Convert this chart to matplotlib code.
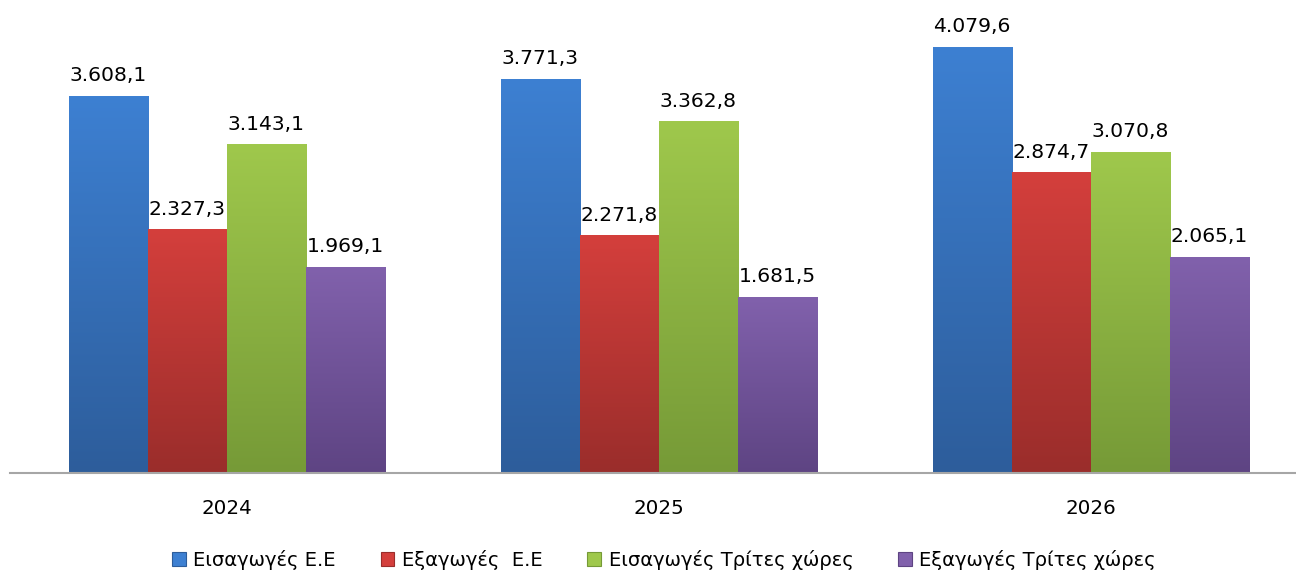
import numpy as np
import matplotlib.pyplot as plt
from matplotlib.colors import LinearSegmentedColormap
from matplotlib.patches import Patch

plt.rcParams['font.family'] = ['DejaVu Sans']

years = ['2024', '2025', '2026']
series = ['Εισαγωγές Ε.Ε', 'Εξαγωγές  Ε.Ε', 'Εισαγωγές Τρίτες χώρες', 'Εξαγωγές Τρίτες χώρες']
imports_eu = [3608.1, 3771.3, 4079.6]
exports_eu = [2327.3, 2271.8, 2874.7]
imports_third = [3143.1, 3362.8, 3070.8]
exports_third = [1969.1, 1681.5, 2065.1]
values = [imports_eu, exports_eu, imports_third, exports_third]

# (bottom, top) colours of the vertical gradient
grads = [('#2d5d9b', '#3d80d2'),
         ('#9a2d2b', '#d43f3c'),
         ('#769a37', '#9fc84c'),
         ('#5e4483', '#8161ac')]


def fmt(v):
    s = f'{v:,.1f}'
    return s.replace(',', 'X').replace('.', ',').replace('X', '.')


fig = plt.figure(figsize=(12.96, 5.74), dpi=100)
ax = fig.add_axes([10 / 1296, 101 / 574, 1286 / 1296, 473 / 574])

width = 0.183
x = np.arange(len(years))
offsets = (np.arange(4) - 1.5) * width

grad = np.linspace(0, 1, 256).reshape(-1, 1)
for i, vals in enumerate(values):
    cmap = LinearSegmentedColormap.from_list(f'g{i}', grads[i])
    bars = ax.bar(x + offsets[i], vals, width, color='none', edgecolor='none')
    for b, v in zip(bars, vals):
        x0, y0 = b.get_x(), b.get_y()
        ax.imshow(grad, extent=[x0, x0 + b.get_width(), y0, y0 + b.get_height()],
                  origin='lower', cmap=cmap, aspect='auto', zorder=2)
        ax.annotate(fmt(v), (x0 + b.get_width() / 2, v), xytext=(0, 8),
                    textcoords='offset points', ha='center', va='bottom',
                    fontsize=14.6, color='black')

ax.set_xlim(-0.502, 2.475)
ax.set_ylim(0, 4530)
for s in ['top', 'right', 'left']:
    ax.spines[s].set_visible(False)
ax.spines['bottom'].set_color('#a6a6a6')
ax.spines['bottom'].set_linewidth(1.5)
ax.spines['bottom'].set_zorder(3)
ax.set_yticks([])
ax.set_xticks(x)
ax.set_xticklabels(years, fontsize=14.3)
ax.tick_params(axis='x', length=0, pad=19)

handles = [Patch(facecolor=grads[i][1], edgecolor=grads[i][0], linewidth=0.8) for i in range(4)]
fig.legend(handles, series, loc='center', bbox_to_anchor=(664 / 1296, 1 - 560 / 574),
           ncol=4, frameon=False, fontsize=14, handlelength=0.7, handleheight=0.7,
           handletextpad=0.4, columnspacing=2.3)

fig.savefig('out.png', dpi=100)
